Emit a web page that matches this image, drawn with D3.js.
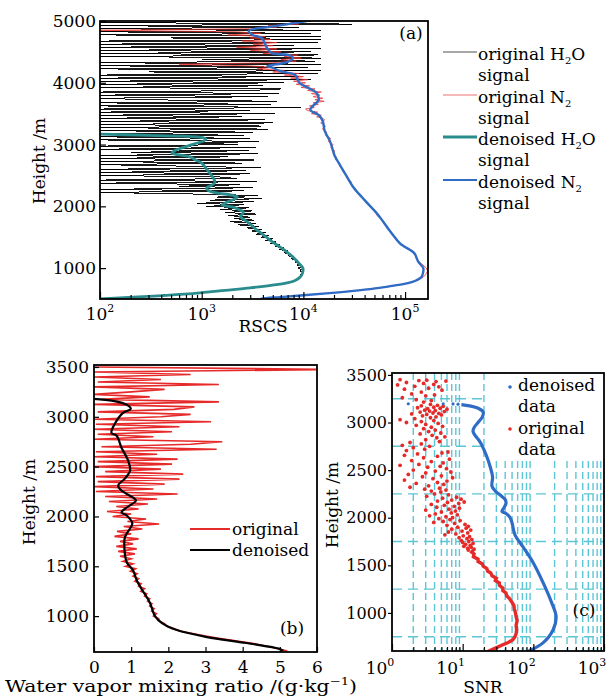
<!DOCTYPE html>
<html>
<head>
<meta charset="utf-8">
<title>RSCS, mixing ratio and SNR profiles</title>
<script src="https://d3js.org/d3.v7.min.js"></script>
<style>
  body { margin: 0; background: #fff; }
  svg text { font-family: "DejaVu Serif", serif; fill: #000; }
</style>
</head>
<body>
<svg width="614" height="698" id="fig"></svg>
<script>
// ---------- panel (a): RSCS vs height ----------
// lidar range bins, 25 m
const aH2oOrigH = d3.range(500, 5001, 25);
const aH2oOrigV = [
  60, 200, 300, 520, 900, 1350, 1950, 2700, 3900, 4900,
  6200, 7600, 8100, 9000, 8900, 9800, 9200, 10200, 9300, 9600,
  8800, 9900, 8600, 9300, 8200, 8900, 7600, 8200, 7000, 7600,
  6400, 7100, 5800, 6500, 5300, 5900, 4700, 5400, 4200, 5000,
  3800, 4600, 3400, 4300, 3100, 3900, 2800, 3700, 2300, 3400,
  1900, 3300, 2100, 3000, 1800, 3400, 1700, 3100, 1500, 2900,
  1100, 2600, 900, 3300, 1200, 3900, 1400, 3600, 800,
  40, 2600, 30, 3200, 600, 2400, 30, 3500, 20, 2200,
  1500, 30, 3000, 50, 2700, 20, 3800, 700, 30, 2500,
  40, 3300, 20, 1800, 30, 3600, 200, 2900, 20, 3400,
  30, 2300, 900, 3700, 20, 3000, 40, 2600, 20, 3200,
  30, 4500, 20, 3800, 60, 5000, 20, 4200, 30, 2500,
  20, 5200, 40, 3000, 20, 9500, 30, 4800, 20, 5500,
  300, 20, 4500, 30, 5800, 20, 3000, 6000, 20, 4000,
  30, 6500, 20, 12000, 40, 9000, 20, 14000, 300, 15000,
  20, 11000, 30, 15000, 20, 13000, 1000, 15000, 20, 14000,
  30, 12000, 20, 15000, 40, 8000, 20, 14000, 30, 15000,
  500, 15000, 20, 12000, 30, 15000, 20, 9000, 40, 30000,
  20, 12000
];

const aN2OrigH = d3.range(500, 3400, 50).concat(d3.range(3400, 5001, 25));
const aN2OrigV = [
  3900, 8200, 19500, 39000, 69000, 104000, 131000, 150000, 160000, 166000,
  162000, 150000, 138000, 129000, 127000, 119000, 110000, 96000, 91000, 82000,
  80000, 74000, 72000, 66000, 65000, 60000, 58000, 53000, 52500, 48000,
  46500, 41500, 40500, 37000, 36000, 32500, 31800, 29500, 29500, 27000,
  26800, 24700, 24600, 22700, 22800, 20800, 21000, 19600, 20300, 18600,
  19600, 17600, 18500, 16500, 17000, 15400, 16500, 14800, 16200,
  15500, 13500, 15000, 12000, 13800, 11000, 10500, 12800, 11500, 14000,
  12500, 16000, 13000, 15500, 12500, 14500, 12000, 15000, 11000, 13000,
  9500, 11500, 8500, 10500, 8000, 11000, 7500, 10000, 6500, 9000,
  5000, 6500, 3500, 5200, 2800, 600, 5000, 8500, 6000, 9500,
  6500, 8800, 4000, 6000, 3000, 5500, 2200, 5000, 3200, 5500,
  2500, 4800, 3000, 4200, 1800, 3800, 2200, 50, 3000, 5500,
  4500, 9000, 7500, 11500
];

const aH2oDenH = [500, 530, 560, 600, 640, 680, 720, 760, 800, 855, 920, 1000, 1080, 1180, 1260,
  1340, 1420, 1500, 1560, 1620, 1690, 1750, 1790, 1830, 1870, 1910, 1950, 1990, 2020, 2050,
  2070, 2110, 2150, 2180, 2210, 2230, 2260, 2300, 2340, 2390, 2460, 2540, 2620, 2700, 2750,
  2800, 2830, 2862, 2900, 2950, 3000, 3060, 3090, 3120, 3135, 3150, 3170];
const aH2oDenV = [100, 210, 450, 960, 1700, 3000, 4800, 6900, 8300, 9300, 9800, 9900, 9000, 7900, 6900,
  5900, 5000, 4340, 3900, 3470, 3100, 2800, 2600, 2400, 2500, 2570, 2300, 2000, 1580, 1700,
  1780, 2050, 2240, 2000, 1500, 1290, 1150, 1120, 1250, 1350, 1300, 1200, 1100, 1000, 870,
  770, 620, 510, 540, 650, 800, 1050, 1100, 950, 650, 300, 100];

const aN2DenH = [500, 515, 530, 560, 595, 640, 680, 720, 757, 800, 855, 920, 1000, 1100, 1243,
  1350, 1400, 1600, 1750, 1890, 2100, 2310, 2530, 2750, 2810, 3060, 3220, 3380, 3480, 3560,
  3620, 3720, 3835, 3915, 4000, 4125, 4190, 4255, 4270, 4335, 4400, 4450, 4480, 4560, 4725,
  4770, 4840, 4920, 5000];
const aN2DenV = [3800, 4300, 5900, 10000, 18000, 35000, 56000, 80000, 107000, 128000, 145000, 150000, 151000, 135000, 123000,
  98000, 89000, 71000, 61000, 52500, 40000, 31000, 25700, 21400, 20400, 18200, 16200, 15500, 14100, 11700,
  12300, 14100, 13500, 11200, 9100, 8300, 5900, 4800, 4400, 6900, 7900, 7100, 4900, 4400, 3900,
  3200, 2900, 5500, 10800];

const aYTicks = [1000, 2000, 3000, 4000, 5000];
const aXTicks = [100, 1000, 10000, 100000];

// ---------- panel (b): water vapour mixing ratio ----------
const bOrigH = d3.range(650, 3501, 25);
const bOrigV = [
  5.2, 4.95, 4.6, 4.3,
  3.85, 3.4, 3.0, 2.65, 2.3, 2.15, 1.95, 1.9, 1.76, 1.74,
  1.6, 1.68, 1.55, 1.62, 1.5, 1.56, 1.44, 1.5, 1.36, 1.42,
  1.26, 1.36, 1.2, 1.27, 1.1, 1.2, 1.05, 1.16, 0.98, 1.12,
  0.85, 1.05, 0.78, 1.0, 0.7, 1.1, 0.65, 1.15, 0.6, 1.05,
  0.7, 1.2, 0.55, 1.0, 0.62, 1.3, 0.8, 1.75, 0.9, 1.4,
  0.5, 1.0, 0.35, 1.2, 0.6, 1.45, 0.4, 1.7, 0.3, 2.25,
  0.05, 1.6, 0.02, 1.9, 0.1, 2.3, 0.05, 2.4, 0.3, 1.8,
  0.0, 2.1, 0.1, 2.25, 0.0, 1.7, 0.05, 3.3, 0.2, 2.6,
  3.45, 0.0, 1.6, 0.1, 2.1, 0.0, 2.3, 0.05, 3.15, 0.0,
  1.8, 2.6, 0.1, 2.15, 2.7, 0.0, 3.36, 0.2, 1.5, 0.0,
  1.0, 1.9, 0.0, 3.36, 0.1, 1.8, 0.0, 2.6, 0.0, 6.5,
  0.0
];
const bDenH = [3180, 3160, 3120, 3080, 3040, 2930, 2840, 2810, 2690, 2560, 2460, 2380, 2310, 2260, 2190,
  2160, 2090, 2040, 2010, 1930, 1880, 1790, 1630, 1540, 1460, 1360, 1260, 1190, 1130, 1000,
  930, 860, 790, 730, 670, 650];
const bDenV = [0.0, 0.51, 0.89, 0.99, 0.78, 0.56, 0.47, 0.61, 0.74, 0.92, 0.97, 0.83, 0.65, 0.74, 1.05,
  1.13, 0.88, 0.74, 0.88, 1.03, 0.97, 0.83, 0.83, 0.88, 1.05, 1.15, 1.30, 1.42, 1.51, 1.64,
  1.83, 2.23, 3.04, 4.1, 5.0, 5.09];
const bYTicks = [1000, 1500, 2000, 2500, 3000, 3500];
const bXTicks = [0, 1, 2, 3, 4, 5, 6];

// ---------- panel (c): SNR ----------
const cDenH = [590, 685, 820, 960, 1105, 1315, 1525, 1690, 1820, 1945, 2000, 2040, 2065, 2100, 2150,
  2190, 2230, 2280, 2330, 2430, 2535, 2640, 2765, 2800, 2870, 2910, 2950, 3000, 3060, 3110,
  3150, 3175, 3188];
const cDenV = [81, 137, 190, 210, 182, 138, 100, 72, 55, 50, 47, 42, 36, 38, 41,
  40, 35, 29, 26, 26.5, 24.5, 22, 18.6, 17.5, 14.8, 14.0, 14.6, 16.5, 19.0, 19.5,
  16.6, 12.5, 9.6];
const cDenSparseH = [3193, 3195, 3196, 3197];
const cDenSparseV = [8.6, 7.3, 5.3, 1.7];

const cOrigLineH = [590, 620, 665, 690, 715, 750, 780, 820, 870, 920, 960, 1000, 1040, 1080, 1110,
  1150, 1180, 1210, 1235, 1260, 1290, 1315, 1340, 1365, 1390, 1420, 1440, 1465, 1490, 1515,
  1540, 1565, 1590, 1620, 1650];
const cOrigLineV = [22, 27, 37, 44, 51, 55, 57, 58, 57, 59, 57, 56, 54, 53, 50,
  46, 42, 41, 37, 37, 33, 33, 29, 30, 26, 25, 22.5, 22, 19.5, 19,
  16.5, 16.5, 14.2, 14.5, 12.8];
const cOrigDotH = [3450, 3440, 3445, 3430, 3435, 3420, 3410, 3400, 3395, 3380, 3375, 3360, 3350, 3340, 3320,
  3300, 3290, 3280, 3260, 3240, 3230, 3215,
  3190, 3180, 3175, 3170, 3160, 3155, 3150, 3145, 3140, 3130, 3125, 3120, 3115, 3110, 3100, 3095, 3090, 3085,
  3080, 3070, 3060, 3050, 3040, 3030, 3020, 3010, 3000, 2990, 2980, 2970, 2960, 2950, 2935, 2920, 2905, 2890,
  2880, 2865, 2850, 2840, 2820, 2800, 2790, 2775, 2760, 2750, 2735, 2720, 2705, 2690, 2680, 2670, 2655, 2645,
  2630, 2615, 2600, 2590, 2575, 2560, 2550, 2540, 2530, 2515, 2500, 2490, 2480, 2470, 2455, 2440, 2430, 2420,
  2410, 2395, 2385, 2370, 2360, 2350, 2335, 2320, 2310, 2300, 2290, 2280, 2270,
  2250, 2240, 2225, 2215, 2205, 2195, 2185, 2175, 2165, 2160, 2150, 2140, 2130, 2120, 2110, 2100, 2090, 2080,
  2070, 2060, 2050, 2040, 2030, 2020, 2010, 2000, 1990, 1980, 1970, 1960, 1950, 1940, 1930, 1920, 1910, 1900,
  1890, 1880, 1870, 1860, 1850, 1840, 1830, 1820, 1810, 1800, 1790, 1780, 1770, 1760, 1750, 1740, 1730, 1720,
  1710, 1700, 1690, 1680, 1670, 1660, 1650];
const cOrigDotV = [1.3, 2.4, 3.1, 4.2, 5.8, 1.6, 2.8, 3.9, 1.2, 2.1, 4.6, 3.3, 1.5, 5.1, 2.6,
  1.9, 4.0, 3.0, 1.4, 2.2, 3.6, 2.8,
  3.5, 4.4, 2.6, 5.3, 3.9, 2.3, 4.8, 3.2, 6.0, 2.9, 4.1, 3.4, 5.5, 2.5, 3.8, 4.6, 1.9, 3.1,
  5.0, 2.7, 4.2, 3.5, 2.1, 1.3, 3.9, 2.6, 1.6, 4.5, 3.0, 2.2, 5.2, 3.6, 2.8, 4.1, 3.3, 4.9,
  2.5, 3.7, 5.6, 4.3, 3.0, 4.7, 1.8, 2.6, 1.4, 3.4, 2.0, 2.9, 1.6, 6.2, 5.1, 2.3, 1.5, 4.4,
  2.8, 6.5, 1.9, 3.6, 5.3, 2.4, 1.3, 4.8, 3.2, 5.9, 2.0, 4.1, 6.8, 3.0, 1.7, 5.0, 2.7, 7.2,
  3.8, 1.5, 6.0, 4.4, 2.2, 5.4, 3.3, 1.8, 4.7, 2.9, 5.8, 3.6, 4.9,
  4.0, 6.3, 3.1, 8.2, 5.2, 9.5, 7.0, 4.4, 10.5, 6.1, 8.8, 3.6, 5.5, 7.6, 4.3, 9.0, 6.4, 3.0,
  7.9, 5.0, 6.9, 4.1, 8.4, 3.4, 5.8, 7.2, 4.6, 6.6, 9.2, 5.3, 3.9, 7.7, 10.8, 6.0, 12.0, 8.5,
  11.2, 7.0, 13.0, 9.8, 6.3, 11.8, 8.0, 5.6, 10.2, 12.5, 8.9, 11.5, 13.5, 9.6, 12.2, 10.0, 14.0, 11.0,
  12.8, 10.4, 13.2, 11.8, 14.5, 12.0, 13.8];
const cYTicks = [1000, 1500, 2000, 2500, 3000, 3500];
const cXTicks = [1, 10, 100, 1000];
const cGridH = [750, 1250, 1750, 2250, 2750, 3250];

// ---------- colours ----------
const TEAL = "#2a8c8c", BLUE = "#2f6cc6", RED = "#e62a2a", CYAN = "#5cc6d6";
const FONT = '"DejaVu Serif", serif';

const svg = d3.select("#fig");

function clip(id, x0, x1, y0, y1) {
  svg.append("clipPath").attr("id", id)
    .append("rect").attr("x", x0).attr("y", y0).attr("width", x1 - x0).attr("height", y1 - y0);
}
function frame(x0, x1, y0, y1) {
  svg.append("rect").attr("x", x0).attr("y", y0).attr("width", x1 - x0).attr("height", y1 - y0)
    .attr("fill", "none").attr("stroke", "#000").attr("stroke-width", 1.8);
}
function styleAxis(g, size) {
  g.attr("font-family", FONT).attr("font-size", size);
  g.select(".domain").remove();
  g.selectAll(".tick line").attr("stroke", "#000").attr("stroke-width", 1.2);
  g.selectAll(".tick text").attr("fill", "#000");
}
// "10^n" style labels, shift moves them off the tick a bit (panel c)
function powLabels(scale, ticks, y, shift) {
  ticks.forEach(function(v) {
    const t = svg.append("text").attr("x", scale(v) + shift).attr("y", y)
      .attr("text-anchor", "middle").attr("font-size", 17);
    t.append("tspan").text("10");
    t.append("tspan").attr("dy", -8).attr("font-size", 11).text(Math.round(Math.log10(v)));
  });
}
function yTitle(x, y) {
  svg.append("text").attr("transform", "translate(" + x + "," + y + ") rotate(-90)")
    .attr("text-anchor", "middle").attr("font-size", 17).text("Height /m");
}
// text with a subscript piece, parts = [[text, isSub], ...]
function subText(x, y, parts) {
  const t = svg.append("text").attr("x", x).attr("y", y).attr("font-size", 17);
  let down = false;
  parts.forEach(function(p) {
    const s = t.append("tspan").text(p[0]);
    if (p[1]) { s.attr("font-size", 10).attr("dy", 4); down = true; }
    else if (down) { s.attr("dy", -4); down = false; }
  });
  return t;
}

// =============== (a) ===============
const xA = d3.scaleLog().domain([100, 168000]).range([100, 428]).clamp(true);
const yA = d3.scaleLinear().domain([500, 5000]).range([299, 21]);
clip("clipA", 100, 428, 21, 299);

const lineA = d3.line().x(d => xA(d[1])).y(d => yA(d[0]));
const smoothA = d3.line().x(d => xA(d[1])).y(d => yA(d[0])).curve(d3.curveCatmullRom.alpha(0.5));

const gA = svg.append("g").attr("clip-path", "url(#clipA)");
gA.append("path").datum(d3.zip(aH2oOrigH, aH2oOrigV)).attr("d", lineA)
  .attr("fill", "none").attr("stroke", "#000").attr("stroke-width", 0.9)
  .attr("shape-rendering", "crispEdges");
gA.append("path").datum(d3.zip(aN2OrigH, aN2OrigV)).attr("d", lineA)
  .attr("fill", "none").attr("stroke", "#e8302c").attr("stroke-width", 0.8);
gA.append("path").datum(d3.zip(aH2oDenH, aH2oDenV)).attr("d", smoothA)
  .attr("fill", "none").attr("stroke", TEAL).attr("stroke-width", 2.8);
gA.append("path").datum(d3.zip(aN2DenH, aN2DenV)).attr("d", smoothA)
  .attr("fill", "none").attr("stroke", BLUE).attr("stroke-width", 2.4);

svg.append("g").attr("transform", "translate(100,0)")
  .call(d3.axisLeft(yA).tickValues(aYTicks).tickSize(-6).tickPadding(4).tickFormat(d3.format("d")))
  .call(g => styleAxis(g, 17));
svg.append("g").attr("transform", "translate(0,299)")
  .call(d3.axisBottom(xA).tickValues(xA.ticks().filter(v => aXTicks.indexOf(v) < 0)).tickSize(-4).tickFormat(""))
  .call(g => styleAxis(g, 17));
svg.append("g").attr("transform", "translate(0,299)")
  .call(d3.axisBottom(xA).tickValues(aXTicks).tickSize(-7).tickFormat(""))
  .call(g => styleAxis(g, 17));
powLabels(xA, aXTicks, 320, 0);
frame(100, 428, 21, 299);

svg.append("text").attr("x", 411).attr("y", 39).attr("text-anchor", "middle").attr("font-size", 17).text("(a)");
svg.append("text").attr("x", 263).attr("y", 332).attr("text-anchor", "middle").attr("font-size", 17).text("RSCS");
yTitle(45, 161);

// legend (a)
const legA = [
  { y: 52, color: "#8a8a8a", w: 1.5, parts: [["original H"], ["2", 1], ["O"]] },
  { y: 95, color: "#f2a0a0", w: 1.5, parts: [["original N"], ["2", 1]] },
  { y: 137, color: TEAL, w: 3, parts: [["denoised H"], ["2", 1], ["O"]] },
  { y: 180, color: BLUE, w: 2, parts: [["denoised N"], ["2", 1]] }
];
legA.forEach(function(d) {
  svg.append("line").attr("x1", 443).attr("x2", 477).attr("y1", d.y).attr("y2", d.y)
    .attr("stroke", d.color).attr("stroke-width", d.w);
  subText(478, d.y + 8, d.parts);
  svg.append("text").attr("x", 478).attr("y", d.y + 29).attr("font-size", 17).text("signal");
});

// =============== (b) ===============
const xB = d3.scaleLinear().domain([0, 6]).range([94, 317]);
const yB = d3.scaleLinear().domain([640, 3520]).range([652, 365]);
clip("clipB", 94, 317, 365, 652);
const lineB = d3.line().x(d => xB(d[1])).y(d => yB(d[0]));
const smoothB = d3.line().x(d => xB(d[1])).y(d => yB(d[0])).curve(d3.curveCatmullRom.alpha(0.5));

const gB = svg.append("g").attr("clip-path", "url(#clipB)");
gB.append("path").datum(d3.zip(bOrigH, bOrigV)).attr("d", lineB)
  .attr("fill", "none").attr("stroke", RED).attr("stroke-width", 1.6);
gB.append("path").datum(d3.zip(bDenH, bDenV)).attr("d", smoothB)
  .attr("fill", "none").attr("stroke", "#000").attr("stroke-width", 2.2);

svg.append("g").attr("transform", "translate(94,0)")
  .call(d3.axisLeft(yB).tickValues(bYTicks).tickSize(-5).tickPadding(5).tickFormat(d3.format("d")))
  .call(g => styleAxis(g, 17));
svg.append("g").attr("transform", "translate(0,652)")
  .call(d3.axisBottom(xB).tickValues(bXTicks).tickSize(-5).tickPadding(9).tickFormat(d3.format("d")))
  .call(g => styleAxis(g, 17));
frame(94, 317, 365, 652);

svg.append("text").attr("x", 292).attr("y", 634).attr("text-anchor", "middle").attr("font-size", 17).text("(b)");
yTitle(35, 502);
// the printed axis title is set wide, stretch it a bit
const bTitle = svg.append("text").attr("transform", "translate(181,692) scale(1.2,1)")
  .attr("text-anchor", "middle").attr("font-size", 17);
bTitle.append("tspan").text("Water vapor mixing ratio /(g\u00b7kg");
bTitle.append("tspan").attr("dy", -7).attr("font-size", 11).text("\u22121");
bTitle.append("tspan").attr("dy", 7).text(")");

[["original", RED, 529], ["denoised", "#000", 550]].forEach(function(d) {
  svg.append("line").attr("x1", 190).attr("x2", 230).attr("y1", d[2]).attr("y2", d[2])
    .attr("stroke", d[1]).attr("stroke-width", 2);
  svg.append("text").attr("x", 232).attr("y", d[2] + 6).attr("font-size", 17).text(d[0]);
});

// =============== (c) ===============
const xC = d3.scaleLog().domain([1, 1000]).range([392, 604]).clamp(true);
const yC = d3.scaleLinear().domain([600, 3520]).range([651, 373]);
clip("clipC", 392, 604, 373, 651);

const gC = svg.append("g").attr("clip-path", "url(#clipC)");
// dashed grid on the minor decades
gC.selectAll(".vgrid").data(xC.ticks().filter(v => cXTicks.indexOf(v) < 0)).enter()
  .append("line").attr("class", "vgrid")
  .attr("x1", d => xC(d)).attr("x2", d => xC(d)).attr("y1", 373).attr("y2", 651)
  .attr("stroke", CYAN).attr("stroke-width", 1.4).attr("stroke-dasharray", "7,4");
gC.selectAll(".hgrid").data(cGridH).enter()
  .append("line").attr("class", "hgrid")
  .attr("x1", 392).attr("x2", 604).attr("y1", d => yC(d)).attr("y2", d => yC(d))
  .attr("stroke", CYAN).attr("stroke-width", 1.4).attr("stroke-dasharray", "10,6");
// legend background
gC.append("rect").attr("x", 487).attr("y", 374).attr("width", 117).attr("height", 83).attr("fill", "#fff");

const lineC = d3.line().x(d => xC(d[1])).y(d => yC(d[0]));
gC.append("path").datum(d3.zip(cOrigLineH, cOrigLineV)).attr("d", lineC)
  .attr("fill", "none").attr("stroke", RED).attr("stroke-width", 3.4);
gC.selectAll(".odot").data(d3.zip(cOrigDotH, cOrigDotV)).enter()
  .append("circle").attr("class", "odot")
  .attr("cx", d => xC(d[1])).attr("cy", d => yC(d[0])).attr("r", 1.9).attr("fill", RED);
gC.append("path").datum(d3.zip(cDenH, cDenV)).attr("d", lineC.curve(d3.curveCatmullRom.alpha(0.5)))
  .attr("fill", "none").attr("stroke", BLUE).attr("stroke-width", 3.2);
gC.selectAll(".ddot").data(d3.zip(cDenSparseH, cDenSparseV)).enter()
  .append("circle").attr("class", "ddot")
  .attr("cx", d => xC(d[1])).attr("cy", d => yC(d[0])).attr("r", 1.6).attr("fill", BLUE);

svg.append("g").attr("transform", "translate(392,0)")
  .call(d3.axisLeft(yC).tickValues(cYTicks).tickSize(4).tickPadding(1).tickFormat(d3.format("d")))
  .call(g => styleAxis(g, 16));
svg.append("g").attr("transform", "translate(0,651)")
  .call(d3.axisBottom(xC).tickValues(xC.ticks().filter(v => cXTicks.indexOf(v) < 0)).tickSize(-4).tickFormat(""))
  .call(g => styleAxis(g, 16));
svg.append("g").attr("transform", "translate(0,651)")
  .call(d3.axisBottom(xC).tickValues(cXTicks).tickSize(-7).tickFormat(""))
  .call(g => styleAxis(g, 16));
powLabels(xC, cXTicks, 674, -12);
frame(392, 604, 373, 651);

svg.append("text").attr("x", 584).attr("y", 616).attr("text-anchor", "middle").attr("font-size", 17).text("(c)");
svg.append("text").attr("x", 483).attr("y", 693).attr("text-anchor", "middle").attr("font-size", 17).text("SNR");
yTitle(338, 505);

// legend (c)
svg.append("circle").attr("cx", 510).attr("cy", 387).attr("r", 1.8).attr("fill", BLUE);
svg.append("circle").attr("cx", 510).attr("cy", 429).attr("r", 1.8).attr("fill", RED);
[["denoised", 391], ["data", 412], ["original", 434], ["data", 455]].forEach(function(d) {
  svg.append("text").attr("x", 518).attr("y", d[1]).attr("font-size", 17).text(d[0]);
});
</script>
</body>
</html>
